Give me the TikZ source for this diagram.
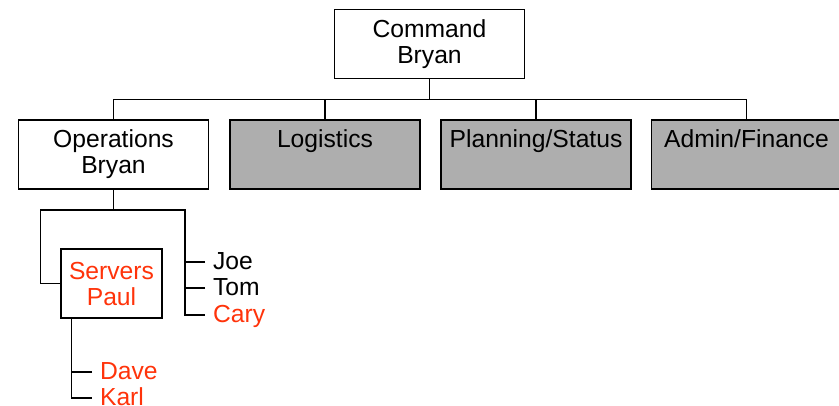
\documentclass[tikz,border=0pt]{standalone}
\usepackage{fontspec}
\setmainfont{Liberation Sans}
\usepackage{tikz}
\usetikzlibrary{calc}
\definecolor{namered}{RGB}{255,51,10}
\definecolor{unitgray}{RGB}{174,174,174}

\begin{document}
\begin{tikzpicture}[x=0.75pt,y=0.75pt,yscale=-1,xscale=1,
  every node/.style={font=\fontsize{18.5pt}{19.5pt}\selectfont},
  unitbox/.style={draw,line width=1.1pt,align=center,minimum width=142.5pt,minimum height=52pt,inner sep=0pt},
  grayunit/.style={unitbox,fill=unitgray},
  crewname/.style={anchor=west,text height=11.8pt,text depth=0pt,inner xsep=5.5pt,inner ysep=0pt},
  every path/.style={line width=1.1pt}]
\useasboundingbox (0,0) rectangle (839,405);

% Boxes
\node [unitbox] (cmd) at (429.5,44) {Command\\Bryan};
\node [unitbox] (ops) at (113.5,154.5) {Operations\\Bryan};
\node [grayunit] (log) at (325,154.5) {Logistics\\\phantom{Bryan}};
\node [grayunit] (plan) at (536,154.5) {Planning/Status\\\phantom{Bryan}};
\node [grayunit] (adm) at (746.5,154.5) {Admin/Finance\\\phantom{Bryan}};
\node [unitbox,minimum width=75.75pt,text=namered] (srv) at (111.5,283.5) {Servers\\Paul};

% Names
\node [crewname] (joe) at (205,262) {Joe};
\node [crewname] (tom) at (205,288) {Tom};
\node [crewname,text=namered] (cary) at (205,315) {Cary};
\node [crewname,text=namered] (dave) at (92,372) {Dave};
\node [crewname,text=namered] (karl) at (92,398) {Karl};

% Command bus
\draw (cmd.south) -- ++(0,20) coordinate (cmdbus);
\foreach \u in {ops,log,plan,adm}
  \draw (cmdbus) -| (\u.north);

% Operations bus
\draw (ops.south) -- ++(0,20) coordinate (opsbus);
\draw (opsbus) -| ($(srv.west)+(-20,0)$) -- (srv.west);
\draw (opsbus) -| ($(cary.west)+(-20,0)$) -- (cary.west);
\draw (joe.west) -- ++(-20,0);
\draw (tom.west) -- ++(-20,0);

% Servers crew
\draw ($(srv.south west)+(11,0)$) |- (karl.west);
\draw (dave.west) -- ++(-20,0);

\end{tikzpicture}
\end{document}
